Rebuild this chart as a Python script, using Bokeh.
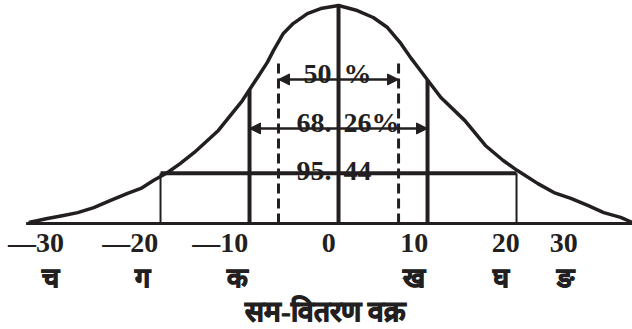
import numpy as np
from bokeh.plotting import figure
from bokeh.models import Arrow, NormalHead, Range1d
from bokeh.embed import file_html
from bokeh.resources import INLINE
from bokeh.core.properties import value

# Normal curve: abscissa in standard-deviation units, ordinate relative to the peak
curve_z = [-3.48, -3.27, -3.09, -2.93, -2.75, -2.56, -2.37, -2.22, -2.08, -1.92,
           -1.78, -1.62, -1.35, -1.08, -0.91, -0.80, -0.73, -0.62, -0.51, -0.35,
           -0.20, 0.00, 0.21, 0.39, 0.55, 0.70, 0.81, 0.92, 1.03, 1.15,
           1.42, 1.65, 1.85, 2.01, 2.24, 2.42, 2.61, 2.80, 2.98, 3.17, 3.30]
curve_h = [0.005, 0.023, 0.037, 0.050, 0.073, 0.106, 0.138, 0.161, 0.197, 0.234,
           0.275, 0.326, 0.427, 0.564, 0.670, 0.739, 0.794, 0.872, 0.917, 0.963,
           0.986, 1.000, 0.977, 0.945, 0.899, 0.826, 0.761, 0.702, 0.642, 0.578,
           0.472, 0.358, 0.289, 0.243, 0.183, 0.142, 0.115, 0.083, 0.050, 0.028, 0.005]

# Limits (in sigma) of the marked areas: 50 %, 68.26 %, 95.44 %
limit_probable = 0.6745
limit_one = 1.0
limit_two = 2.0
area_left = ["50", "68.", "95."]
area_right = ["%", "26%", "44"]

# Scale values and letters beneath the base line
tick_labels = ["\u201430", "\u201420", "\u201410", "0", "10", "20", "30"]
tick_letters = ["च", "ग", "क", "ख", "घ", "ङ"]
title_text = "सम-वितरण वक्र"

# where the texts sit (sigma units)
tick_label_x = [-3.40, -2.34, -1.33, -0.11, 0.85, 1.88, 2.53]
tick_letter_x = [-3.24, -2.20, -1.13, 0.85, 1.82, 2.55]

cz = np.array(curve_z)
ch = np.array(curve_h)

def height_at(z):
    return float(np.interp(z, cz, ch))

p = figure(width=632, height=329, output_backend="svg", toolbar_location=None,
           x_range=Range1d(-3.798, 3.303), y_range=Range1d(-0.486, 1.023),
           x_axis_location=None, y_axis_location=None, min_border=0,
           background_fill_color="white", border_fill_color="white")
p.grid.visible = False
p.outline_line_color = None

INK = "#231f20"
SERIF = value("Liberation Serif")

# base line
p.segment(x0=[cz[0] - 0.03], y0=[0], x1=[cz[-1]], y1=[0], line_color=INK, line_width=3)

# the curve
p.line(curve_z, curve_h, line_color=INK, line_width=3.5, line_join="round")

# 95.44 % level: horizontal line joining the curve at +-2 sigma
h2 = (height_at(-limit_two) + height_at(limit_two)) / 2
p.segment(x0=[-limit_two], y0=[h2], x1=[limit_two], y1=[h2], line_color=INK, line_width=4)
p.segment(x0=[-limit_two, limit_two], y0=[0, 0], x1=[-limit_two, limit_two], y1=[h2, h2],
          line_color=INK, line_width=2)

# +-1 sigma ordinates up to the curve
p.segment(x0=[-limit_one, limit_one], y0=[0, 0], x1=[-limit_one, limit_one],
          y1=[height_at(-limit_one), height_at(limit_one)], line_color=INK, line_width=4)

# mean ordinate
p.segment(x0=[0], y0=[0], x1=[0], y1=[max(curve_h)], line_color=INK, line_width=4)

# quartile (probable error) ordinates, dashed
dash_top = 0.74
p.segment(x0=[-limit_probable, limit_probable], y0=[0, 0],
          x1=[-limit_probable, limit_probable], y1=[dash_top, dash_top],
          line_color=INK, line_width=3, line_dash="10 5")

# double arrows for the 50 % and 68.26 % spans
for z, y in [(limit_probable, 0.661), (limit_one, 0.436)]:
    p.add_layout(Arrow(x_start=-z, y_start=y, x_end=z, y_end=y, line_color=INK, line_width=2.5,
                       start=NormalHead(size=11, fill_color=INK, line_color=INK),
                       end=NormalHead(size=11, fill_color=INK, line_color=INK)))

# percentage texts either side of the mean ordinate
area_y = [0.688, 0.463, 0.243]
p.text(x=[-0.08] * 3, y=area_y, text=area_left, text_align="right", text_baseline="alphabetic",
       text_font=SERIF, text_font_style="bold", text_font_size="28px", text_color=INK)
p.text(x=[0.056] * 3, y=area_y, text=area_right, text_align="left", text_baseline="alphabetic",
       text_font=SERIF, text_font_style="bold", text_font_size="28px", text_color=INK)

# scale values and letters
p.text(x=tick_label_x, y=[-0.087] * len(tick_labels), text=tick_labels, text_align="center",
       text_baseline="middle", text_font=SERIF, text_font_style="bold",
       text_font_size="28px", text_color=INK)
p.text(x=tick_letter_x, y=[-0.252] * len(tick_letters), text=tick_letters, text_align="center",
       text_baseline="middle", text_font=SERIF, text_font_style="bold",
       text_font_size="27px", text_color=INK, text_outline_color=INK)

# caption
p.text(x=[-0.146], y=[-0.404], text=[title_text], text_align="center", text_baseline="middle",
       text_font=SERIF, text_font_style="bold", text_font_size="28px", text_color=INK,
       text_outline_color=INK)

open("out.html", "w").write(file_html(p, INLINE))
